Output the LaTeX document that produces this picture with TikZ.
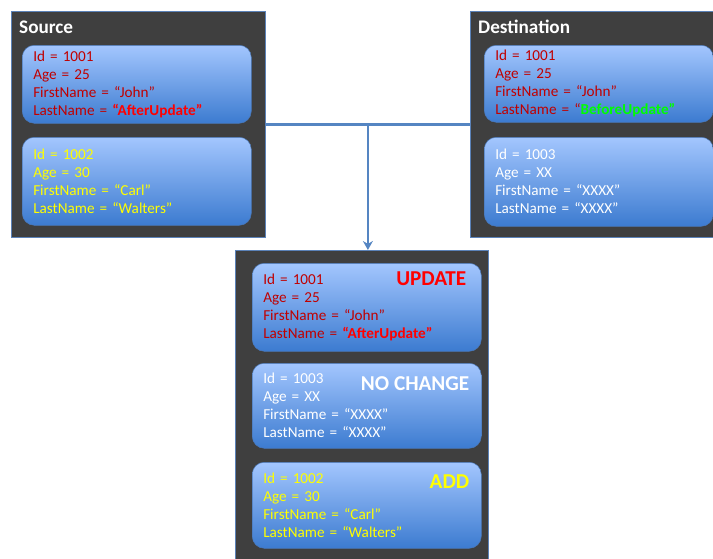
\documentclass[tikz,border=0pt]{standalone}
\usepackage{fontspec}
\setmainfont{Carlito}
\usetikzlibrary{arrows.meta,calc}

\begin{document}
\begin{tikzpicture}[x=1pt,y=-1pt,font=\fontsize{15.2}{18}\selectfont,
  panel/.style={draw=panelline,line width=0.8pt,fill=panelfill,anchor=north west,inner sep=0pt},
  card/.style={draw=cardline,line width=0.5pt,rounded corners=12pt,top color=cardtop,
    bottom color=cardbot,anchor=north west,minimum width=229pt,text width=207pt,
    inner xsep=11pt,inner ysep=0pt,align=left},
  title/.style={font=\bfseries\fontsize{19.2}{22}\selectfont,text=white,anchor=base west,inner sep=0pt},
  tag/.style={font=\bfseries\fontsize{21.2}{24}\selectfont,anchor=north east,inner sep=0pt},
  link/.style={draw=linkblue,line width=2.2pt}]
  \definecolor{panelfill}{HTML}{3F3F3F}
  \definecolor{panelline}{HTML}{5B82B8}
  \definecolor{cardtop}{HTML}{A3C6FE}
  \definecolor{cardbot}{HTML}{3C7BD0}
  \definecolor{cardline}{HTML}{4A78B8}
  \definecolor{linkblue}{HTML}{5585C2}
  \definecolor{oldred}{HTML}{C00000}
  \definecolor{newred}{HTML}{FF0000}
  \definecolor{addyellow}{HTML}{FFFF00}
  \definecolor{keepgreen}{HTML}{00FF00}
  \path[use as bounding box,clip] (0,0) rectangle (713,558);
  % the three panels
  \node[panel,minimum width=254pt,minimum height=226pt] (src) at (11,11) {};
  \node[panel,minimum width=260pt,minimum height=226pt] (dst) at (470,11) {};
  \node[panel,minimum width=253pt,minimum height=330pt] (res) at (235,250) {};
  \node[title] (srctitle) at (19,33) {Source};
  \node[title] (dsttitle) at (478,33) {Destination};
  % source rows
  \node[card,minimum height=78pt,text=oldred] (srcA) at (22,45)
    {Id = 1001\\Age = 25\\FirstName = “John”\\LastName = {\bfseries\color{newred}“AfterUpdate”}};
  \node[card,minimum height=88pt,text=addyellow] (srcB) at (22,137)
    {Id = 1002\\Age = 30\\FirstName = “Carl”\\LastName = “Walters”};
  % destination rows
  \node[card,minimum height=77pt,text=oldred] (dstA) at (484,45)
    {Id = 1001\\Age = 25\\FirstName = “John”\\LastName = “{\bfseries\color{keepgreen}BeforeUpdate”}};
  \node[card,minimum height=89pt,text=white] (dstB) at (484,137)
    {Id = 1003\\Age = XX\\FirstName = “XXXX”\\LastName = “XXXX”};
  % merged result
  \node[card,minimum height=88pt,text=oldred] (resA) at (252,263)
    {Id = 1001\\Age = 25\\FirstName = “John”\\LastName = {\bfseries\color{newred}“AfterUpdate”}};
  \node[card,minimum height=85pt,text=white] (resB) at (252,363)
    {Id = 1003\\Age = XX\\FirstName = “XXXX”\\LastName = “XXXX”};
  \node[card,minimum height=86pt,text=addyellow] (resC) at (252,462)
    {Id = 1002\\Age = 30\\FirstName = “Carl”\\LastName = “Walters”};
  \node[tag,text=newred] (tagA) at ($(resA.north east)+(-15,9)$) {UPDATE};
  \node[tag,text=white] (tagB) at ($(resB.north east)+(-12,13)$) {NO CHANGE};
  \node[tag,text=addyellow] (tagC) at ($(resC.north east)+(-12,13)$) {ADD};
  % merge connector
  \coordinate (fork) at ($(src.east)!0.5!(dst.west)$);
  \draw[link] (src.east) -- (dst.west);
  \draw[link,-{Stealth[length=9pt,width=10pt]}] (fork) -- (fork |- res.north);
\end{tikzpicture}
\end{document}
